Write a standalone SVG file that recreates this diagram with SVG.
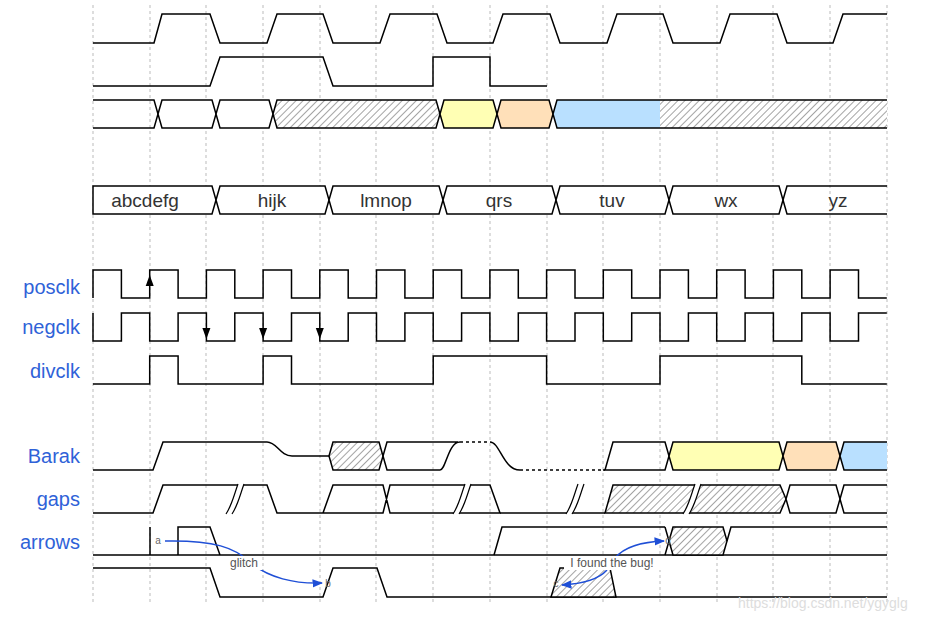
<svg xmlns="http://www.w3.org/2000/svg" width="938" height="620" viewBox="0 0 938 620">
<defs>
<pattern id="hatch" width="5" height="5" patternUnits="userSpaceOnUse" patternTransform="rotate(45)">
<rect width="5" height="5" fill="#fff"/><line x1="0" y1="0" x2="0" y2="5" stroke="#666" stroke-width="1.2"/>
</pattern>
<marker id="ah" viewBox="0 0 10 10" refX="9" refY="5" markerWidth="7" markerHeight="7" orient="auto"><path d="M0 1 L10 5 L0 9 z" fill="#1f4fd6"/></marker>
</defs>
<style>
.w{fill:none;stroke:#000;stroke-width:1.5;stroke-linejoin:miter}
.b{stroke:#000;stroke-width:1.5}
.g{stroke:#bbb;stroke-width:1;stroke-dasharray:3 3}
.lab{font-family:"Liberation Sans",Arial,sans-serif;font-size:20px;fill:#2f62d8;text-anchor:end}
.dt{font-family:"Liberation Sans",Arial,sans-serif;font-size:19px;fill:#333;text-anchor:middle}
.sm{font-family:"Liberation Sans",Arial,sans-serif;font-size:10px;fill:#666;text-anchor:middle}
.an{font-family:"Liberation Sans",Arial,sans-serif;font-size:12px;fill:#555;text-anchor:middle}
.blue{fill:none;stroke:#1f4fd6;stroke-width:1.5}
.dot{fill:none;stroke:#000;stroke-width:1.5;stroke-dasharray:3 3}
</style>
<rect width="938" height="620" fill="#fff"/>
<g id="grid">
<line class="g" x1="93" y1="5" x2="93" y2="605"/><line class="g" x1="150" y1="5" x2="150" y2="605"/><line class="g" x1="206" y1="5" x2="206" y2="605"/><line class="g" x1="263" y1="5" x2="263" y2="605"/><line class="g" x1="320" y1="5" x2="320" y2="605"/><line class="g" x1="376" y1="5" x2="376" y2="605"/><line class="g" x1="433" y1="5" x2="433" y2="605"/><line class="g" x1="490" y1="5" x2="490" y2="605"/><line class="g" x1="547" y1="5" x2="547" y2="605"/><line class="g" x1="603" y1="5" x2="603" y2="605"/><line class="g" x1="660" y1="5" x2="660" y2="605"/><line class="g" x1="717" y1="5" x2="717" y2="605"/><line class="g" x1="773" y1="5" x2="773" y2="605"/><line class="g" x1="830" y1="5" x2="830" y2="605"/><line class="g" x1="887" y1="5" x2="887" y2="605"/>
</g>
<g id="labels">
<text class="lab" x="80" y="294">posclk</text>
<text class="lab" x="80" y="334">negclk</text>
<text class="lab" x="80" y="378">divclk</text>
<text class="lab" x="80" y="463">Barak</text>
<text class="lab" x="80" y="506">gaps</text>
<text class="lab" x="80" y="549">arrows</text>
</g>
<g id="row1"><path class="w" d="M93 43 H154 L162 14 H210 L220 43 H267 L277 14 H323 L333 43 H380 L390 14 H437 L447 43 H493 L503 14 H550 L560 43 H607 L617 14 H663 L673 43 H720 L730 14 H777 L787 43 H833 L843 14 H887"/></g>
<g id="row2"><path class="w" d="M93 86 H210 L220 57 H323 L333 86 H433 V57 H490 V86 H547"/></g>
<g id="row3">
<path class="w" d="M93 100 H154 L158 114 L154 128 H93"/>
<polygon class="b" fill="#fff" points="158,114 162,100 212,100 216,114 212,128 162,128"/>
<polygon class="b" fill="#fff" points="216,114 220,100 269,100 273,114 269,128 220,128"/>
<polygon class="b" fill="url(#hatch)" points="273,114 277,100 436,100 440,114 436,128 277,128"/>
<polygon class="b" fill="#ffffb4" points="440,114 444,100 493,100 497,114 493,128 444,128"/>
<polygon class="b" fill="#ffe0b9" points="497,114 501,100 549,100 553,114 549,128 501,128"/>
<polygon fill="#b9e0ff" points="553,114 557,100 660,100 660,128 557,128"/>
<rect x="660" y="100" width="227" height="28" fill="url(#hatch)"/>
<path class="w" d="M553 114 L557 100 H887 M553 114 L557 128 H887"/>
</g>
<g id="row4">
<polygon class="b" fill="#fff" points="93,186 212,186 216,200 212,214 93,214"/>
<polygon class="b" fill="#fff" points="216,200 220,186 325,186 329,200 325,214 220,214"/>
<polygon class="b" fill="#fff" points="329,200 333,186 439,186 443,200 439,214 333,214"/>
<polygon class="b" fill="#fff" points="443,200 447,186 552,186 556,200 552,214 447,214"/>
<polygon class="b" fill="#fff" points="556,200 560,186 665,186 669,200 665,214 560,214"/>
<polygon class="b" fill="#fff" points="669,200 673,186 779,186 783,200 779,214 673,214"/>
<path class="w" d="M783 200 L787 186 H887 M783 200 L787 214 H887"/>
<text class="dt" x="145" y="207">abcdefg</text>
<text class="dt" x="272" y="207">hijk</text>
<text class="dt" x="386" y="207">lmnop</text>
<text class="dt" x="499" y="207">qrs</text>
<text class="dt" x="612" y="207">tuv</text>
<text class="dt" x="726" y="207">wx</text>
<text class="dt" x="838" y="207">yz</text>
</g>
<g id="posclk">
<path class="w" d="M93 298 V270 H121.4 V298 H149.7 V270 H178.1 V298 H206.4 V270 H234.8 V298 H263.1 V270 H291.5 V298 H319.8 V270 H348.2 V298 H376.5 V270 H404.9 V298 H433.2 V270 H461.6 V298 H489.9 V270 H518.3 V298 H546.6 V270 H575 V298 H603.3 V270 H631.7 V298 H660 V270 H688.4 V298 H716.7 V270 H745.1 V298 H773.4 V270 H801.8 V298 H830.1 V270 H858.5 V298 H886.8"/>
<polygon points="149.7,275 145.7,286 153.7,286" fill="#000"/>
</g>
<g id="negclk">
<path class="w" d="M93 313 V341 H121.4 V313 H149.7 V341 H178.1 V313 H206.4 V341 H234.8 V313 H263.1 V341 H291.5 V313 H319.8 V341 H348.2 V313 H376.5 V341 H404.9 V313 H433.2 V341 H461.6 V313 H489.9 V341 H518.3 V313 H546.6 V341 H575 V313 H603.3 V341 H631.7 V313 H660 V341 H688.4 V313 H716.7 V341 H745.1 V313 H773.4 V341 H801.8 V313 H830.1 V341 H858.5 V313 H886.8"/>
<polygon points="206.4,339 202.4,328 210.4,328" fill="#000"/>
<polygon points="263.1,339 259.1,328 267.1,328" fill="#000"/>
<polygon points="319.8,339 315.8,328 323.8,328" fill="#000"/>
</g>
<g id="divclk"><path class="w" d="M93 384 H149.7 V356 H178.1 V384 H263.1 V356 H291.5 V384 H433.2 V356 H546.6 V384 H660 V356 H801.8 V384 H886.8"/></g>
<g id="barak">
<path class="w" d="M93 470 H153 L163 442 H267 C277 442 280 456 292 456 H329"/>
<polygon class="b" fill="url(#hatch)" points="329,456 333,442 379,442 383,456 379,470 333,470"/>
<path class="w" d="M383 456 L387 442 H458 M383 456 L387 470 H440 C446 470 448 442 460 442"/>
<path class="dot" d="M460 442 H490 M520 470 H605"/>
<path class="w" d="M490 442 C500 442 503 470 520 470"/>
<path class="w" d="M603 470 H665 L669 456 M605 470 L613 442 H665 L669 456"/>
<polygon class="b" fill="#ffffb4" points="669,456 673,442 779,442 783,456 779,470 673,470"/>
<polygon class="b" fill="#ffe0b9" points="783,456 787,442 836,442 840,456 836,470 787,470"/>
<polygon fill="#b9e0ff" points="840,456 844,442 887,442 887,470 844,470"/>
<path class="w" d="M840 456 L844 442 H887 M840 456 L844 470 H887"/>
</g>
<g id="gaps">
<path class="w" d="M93 513 H153 L163 485 H267 L277 513 H323 L333 485 H383 L390 513 H500 L490 485 H390 L383 513 H323"/>
<path class="w" d="M500 513 H605"/>
<polygon class="b" fill="url(#hatch)" points="605,513 613,485 780,485 786,499 780,513"/>
<polygon class="b" fill="#fff" points="786,499 790,485 836,485 840,499 836,513 790,513"/>
<path class="w" d="M840 499 L844 485 H887 M840 499 L844 513 H887"/>
<g fill="#fff" stroke="#000" stroke-width="1.2">
<path d="M226 514 C232 505 234 495 238 484 L244 484 C240 495 238 505 232 514 Z" stroke="none"/>
<path d="M226 514 C232 505 234 495 238 484 M232 514 C238 505 240 495 244 484" fill="none"/>
<path d="M453 514 C459 505 461 495 465 484 L471 484 C467 495 465 505 459 514 Z" stroke="none"/>
<path d="M453 514 C459 505 461 495 465 484 M459 514 C465 505 467 495 471 484" fill="none"/>
<path d="M566 514 C572 505 574 495 578 484 L584 484 C580 495 578 505 572 514 Z" stroke="none"/>
<path d="M566 514 C572 505 574 495 578 484 M572 514 C578 505 580 495 584 484" fill="none"/>
<path d="M683 514 C689 505 691 495 695 484 L701 484 C697 495 695 505 689 514 Z" stroke="none"/>
<path d="M683 514 C689 505 691 495 695 484 M689 514 C695 505 697 495 701 484" fill="none"/>
</g>
</g>
<g id="arrows">
<path class="w" d="M93 555 H887 M150 527 V555 M178 555 V527 H210 L220 555"/>
<path class="w" d="M494 555 L502 527 H665"/>
<polygon class="b" fill="url(#hatch)" points="669,541 673,527 723,527 727,541 723,555 673,555"/>
<path class="w" d="M665 527 L669 541 L665 555 M727 541 L731 527 H887"/>
</g>
<g id="row10">
<path class="w" d="M93 568 H210 L220 597 H323 L333 568 H377 L387 597 H887"/>
<polygon class="b" fill="url(#hatch)" points="551,597 560,568 610,568 616,597"/>
</g>
<g id="connectors">
<path class="blue" marker-end="url(#ah)" d="M165 541 C215 540 235 548 250 562 C268 578 295 584 322 583"/>
<path class="blue" marker-end="url(#ah)" d="M615 558 C625 546 642 542 664 541"/>
<path class="blue" marker-end="url(#ah)" d="M607 570 C598 580 580 584 562 585"/>
<rect x="226" y="556" width="36" height="14" fill="#fff"/>
<text class="an" x="244" y="567">glitch</text>
<rect x="564" y="556" width="98" height="14" fill="#fff"/>
<text class="an" x="612" y="567">I found the bug!</text>
<text class="sm" x="158" y="544">a</text>
<text class="sm" x="328" y="587">b</text>
<text class="sm" x="556" y="587">c</text>
<text class="sm" x="668" y="544">d</text>
</g>
<text x="738" y="608" font-family="'Liberation Sans',Arial,sans-serif" font-size="14" fill="#ddd">https://blog.csdn.net/ygyglg</text>
</svg>
